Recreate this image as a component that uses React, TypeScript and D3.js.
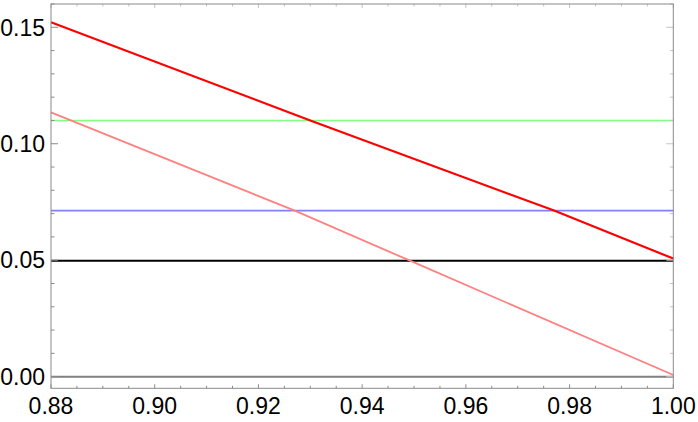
import React from "react";
import * as d3 from "d3";

const W = 698;
const H = 422;

const xDomain = [0.88, 1.0];
const yDomain = [-0.005, 0.16];

const xMajorTicks = [0.88, 0.9, 0.92, 0.94, 0.96, 0.98, 1.0];
const yMajorTicks = [0.0, 0.05, 0.1, 0.15];

// Series (x, y)
const redX = [0.88, 0.93, 0.977, 1.0];
const redY = [0.1522, 0.110, 0.0713, 0.0507];
const salmonX = [0.88, 0.927, 0.949, 1.0];
const salmonY = [0.1135, 0.0713, 0.05, 0.0007];
const greenLevel = 0.11;
const blueLevel = 0.0713;
const blackLevel = 0.0498;
const grayLevel = 0.0;

export default function App() {
  const left = 51;
  const right = 673.3;
  const top = 4;
  const bottom = 388.3;

  const x = d3.scaleLinear().domain(xDomain).range([left, right]);
  const y = d3.scaleLinear().domain(yDomain).range([bottom, top]);

  const line = d3
    .line<[number, number]>()
    .x((d) => x(d[0]))
    .y((d) => y(d[1]));

  const pts = (xs: number[], ys: number[]) =>
    xs.map((v, i) => [v, ys[i]] as [number, number]);
  const flat = (v: number) =>
    [
      [xDomain[0], v],
      [xDomain[1], v],
    ] as [number, number][];

  const xMinor = d3.range(0, 25).map((i) => 0.88 + i * 0.005);
  const yMinor = d3.range(0, 17).map((i) => i * 0.01);

  const isMajorX = (v: number) => xMajorTicks.some((t) => Math.abs(t - v) < 1e-9);
  const isMajorY = (v: number) => yMajorTicks.some((t) => Math.abs(t - v) < 1e-9);

  const frame = "#8a8a8a";
  const light = "#c4c4c4";
  const font = "'Liberation Sans', Arial, sans-serif";

  return (
    <svg
      width={W}
      height={H}
      style={{ position: "absolute", left: 0, top: 0, background: "#fff" }}
    >
      {/* series */}
      <path d={line(flat(grayLevel)) || ""} stroke="#808080" strokeWidth={2} fill="none" />
      <path d={line(flat(blackLevel)) || ""} stroke="#000" strokeWidth={2} fill="none" />
      <path d={line(flat(blueLevel)) || ""} stroke="#8080ff" strokeWidth={1.6} fill="none" />
      <path d={line(flat(greenLevel)) || ""} stroke="#80ff80" strokeWidth={1.4} fill="none" />
      <path d={line(pts(salmonX, salmonY)) || ""} stroke="#ff8080" strokeWidth={1.8} fill="none" />
      <path d={line(pts(redX, redY)) || ""} stroke="#ff0000" strokeWidth={2.2} fill="none" />

      {/* ticks */}
      {xMinor.map((v, i) => {
        const major = isMajorX(v);
        const len = major ? 4 : 2.5;
        const px = x(v);
        return (
          <g key={"xt" + i}>
            <line x1={px} x2={px} y1={bottom} y2={bottom - len} stroke={frame} strokeWidth={1} />
            <line x1={px} x2={px} y1={top} y2={top + len} stroke={light} strokeWidth={1} />
          </g>
        );
      })}
      {yMinor.map((v, i) => {
        const major = isMajorY(v);
        const len = major ? 7 : 3.5;
        const py = y(v);
        return (
          <g key={"yt" + i}>
            <line x1={left} x2={left + len} y1={py} y2={py} stroke={frame} strokeWidth={1} />
            <line x1={right} x2={right - len} y1={py} y2={py} stroke={light} strokeWidth={1} />
          </g>
        );
      })}

      {/* frame */}
      <rect
        x={left}
        y={top}
        width={right - left}
        height={bottom - top}
        fill="none"
        stroke={frame}
        strokeWidth={1}
      />

      {/* labels */}
      {xMajorTicks.map((v, i) => (
        <text
          key={"xl" + i}
          x={x(v)}
          y={bottom + 25.7}
          textAnchor="middle"
          fontFamily={font}
          fontSize={23}
          fill="#000"
        >
          {d3.format(".2f")(v)}
        </text>
      ))}
      {yMajorTicks.map((v, i) => (
        <text
          key={"yl" + i}
          x={left - 6}
          y={y(v)}
          dy="0.36em"
          textAnchor="end"
          fontFamily={font}
          fontSize={23}
          fill="#000"
        >
          {d3.format(".2f")(v)}
        </text>
      ))}
    </svg>
  );
}
